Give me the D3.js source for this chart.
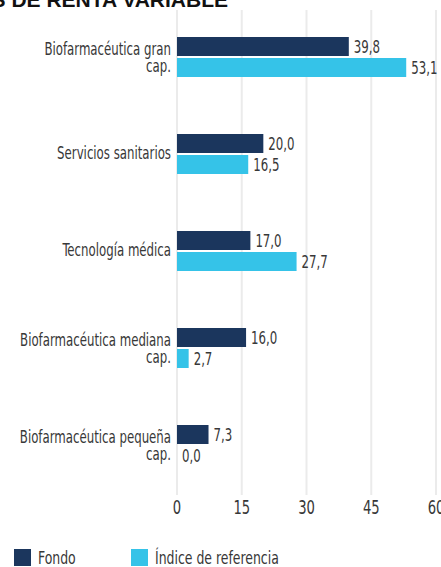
<!DOCTYPE html>
<html>
<head>
<meta charset="utf-8">
<script src="https://cdn.jsdelivr.net/npm/d3@7"></script>
<style>
  body { margin: 0; background: #fff; }
  svg { display: block; }
  text { font-family: "Liberation Sans Narrow", "DejaVu Sans Condensed", sans-serif; fill: #383838; }
</style>
</head>
<body>
<svg id="chart" width="441" height="567"></svg>
<script>
const categories = [
  "Biofarmacéutica gran cap.",
  "Servicios sanitarios",
  "Tecnología médica",
  "Biofarmacéutica mediana cap.",
  "Biofarmacéutica pequeña cap."
];
const fondo = [39.8, 20.0, 17.0, 16.0, 7.3];
const indice = [53.1, 16.5, 27.7, 2.7, 0.0];
const ticks = [0, 15, 30, 45, 60];
const seriesNames = ["Fondo", "Índice de referencia"];
const colors = ["#1b365d", "#35c3e8"];

// the original face is a narrow one, so squeeze the fallback font
const squeeze = 0.77;
const place = (px, py) => `translate(${px},${py}) scale(${squeeze},1)`;

const svg = d3.select("#chart");

const x = d3.scaleLinear().domain([0, 60]).range([177, 436]);
const y = d3.scaleBand().domain(categories).range([8.5, 493.5]);
const fmt = v => d3.format(".1f")(v).replace(".", ",");

// cut off title at the very top
svg.append("text")
  .attr("x", 228).attr("y", 7)
  .attr("text-anchor", "end")
  .style("font-family", "'Liberation Sans', sans-serif")
  .style("font-weight", "bold")
  .style("font-size", "21px")
  .style("fill", "#111")
  .text("SECTORES DE RENTA VARIABLE");

// grid
svg.append("g").selectAll("line")
  .data(ticks)
  .join("line")
  .attr("x1", d => x(d)).attr("x2", d => x(d))
  .attr("y1", 10).attr("y2", 495)
  .attr("stroke", "#ebebeb")
  .attr("stroke-width", 2);

// tick labels
svg.append("g").selectAll("text")
  .data(ticks)
  .join("text")
  .attr("transform", d => place(x(d), 514))
  .attr("text-anchor", "middle")
  .style("font-size", "19px")
  .text(d => d);

const rows = categories.map((c, i) => ({ c, vals: [fondo[i], indice[i]] }));

const group = svg.append("g").selectAll("g")
  .data(rows)
  .join("g")
  .attr("transform", d => `translate(0,${y(d.c) + y.bandwidth() / 2})`);

// bars
group.selectAll("rect")
  .data(d => d.vals)
  .join("rect")
  .attr("x", x(0))
  .attr("y", (d, j) => j === 0 ? -20 : 1)
  .attr("width", d => x(d) - x(0))
  .attr("height", 19)
  .attr("fill", (d, j) => colors[j]);

// value labels
group.selectAll("text.val")
  .data(d => d.vals)
  .join("text")
  .attr("class", "val")
  .attr("transform", (d, j) => place(x(d) + 5, j === 0 ? -10.5 : 10.5))
  .attr("dy", "0.36em")
  .style("font-size", "17px")
  .text(fmt);

// category labels
group.append("text")
  .attr("class", "cat")
  .attr("text-anchor", "end")
  .attr("transform", place(171, 0))
  .style("font-size", "17px")
  .each(function (d) {
    const lines = d.c.endsWith(" cap.")
      ? [d.c.slice(0, -5), "cap."]
      : [d.c];
    const t = d3.select(this);
    const y0 = lines.length === 1 ? 5 : -2;
    lines.forEach((l, k) => {
      t.append("tspan").attr("x", 0).attr("y", y0 + k * 17).text(l);
    });
  });

// legend
const legX = [14, 131];
const leg = svg.append("g").selectAll("g")
  .data(seriesNames)
  .join("g")
  .attr("transform", (d, i) => `translate(${legX[i]},549)`);
leg.append("rect")
  .attr("width", 17).attr("height", 17)
  .attr("fill", (d, i) => colors[i]);
leg.append("text")
  .attr("transform", place(24, 15))
  .style("font-size", "18px")
  .text(d => d);
</script>
</body>
</html>
